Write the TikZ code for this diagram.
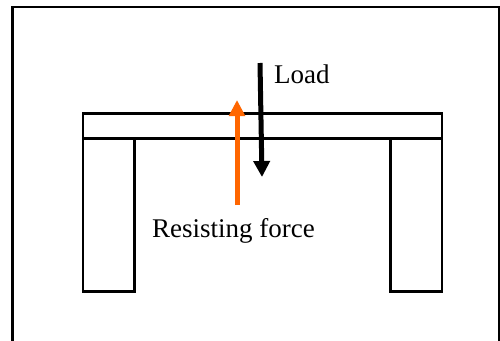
\documentclass[tikz,border=0pt]{standalone}
\usepackage{fontspec}
\setmainfont{Liberation Serif}
\usetikzlibrary{arrows.meta}
\tikzset{
  x=1pt,y=-1pt,
  part/.style={draw=black,line width=2.2pt,inner sep=0pt,outer sep=0pt,anchor=north west},
  outline/.style={draw=black,line width=2.6pt},
  lab/.style={inner sep=0pt,font=\fontsize{27}{31}\selectfont,anchor=base west},
  loadarrow/.style={draw=black,line width=5pt,-{Triangle[length=16pt,width=16pt]}},
  resistarrow/.style={draw={rgb,255:red,255;green,102;blue,0},line width=5pt,-{Triangle[length=16pt,width=15.5pt]}}
}
\begin{document}
\begin{tikzpicture}
\useasboundingbox (0,0) rectangle (500,340);
\fill[white] (0,0) rectangle (500,340);
\draw[outline] (499,345) -- (499,7) -- (12.5,7) -- (12.5,345);
\node[part,minimum width=359pt,minimum height=25pt] (beam) at (83,113.5) {};
\node[part,minimum width=51.5pt,minimum height=153pt] (legL) at (83,138.5) {};
\node[part,minimum width=51.5pt,minimum height=153pt] (legR) at (390.5,138.5) {};
\coordinate (loadS) at (260,63);
\coordinate (loadE) at (262,177);
\coordinate (resS) at (237,205);
\coordinate (resE) at (237,100);
\draw[resistarrow] (resS) -- (resE);
\draw[loadarrow] (loadS) -- (loadE);
\node[lab] (load) at (274,83) {Load};
\node[lab] (res) at (152,237) {Resisting force};
\end{tikzpicture}
\end{document}
